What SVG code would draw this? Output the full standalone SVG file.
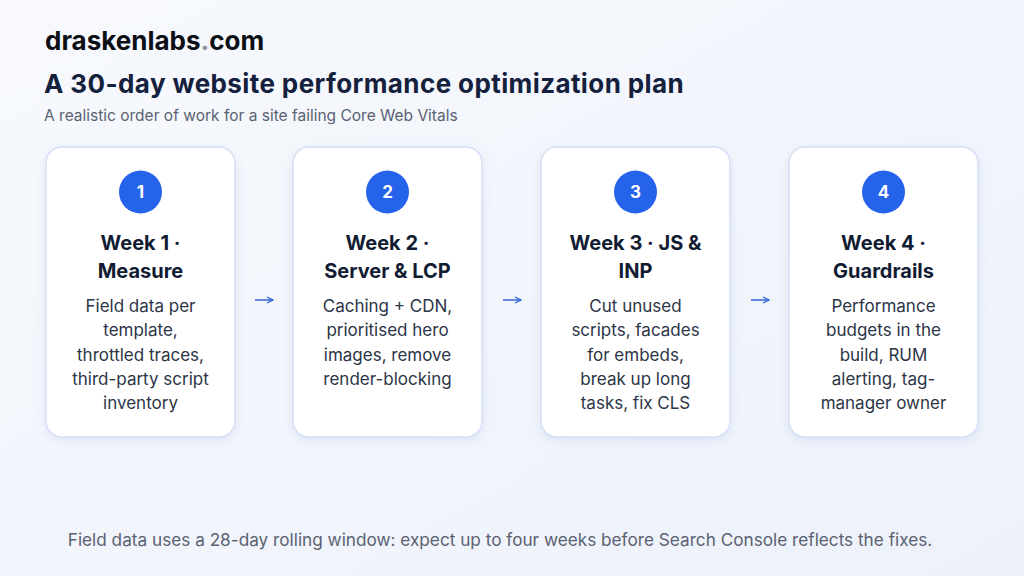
<svg xmlns="http://www.w3.org/2000/svg" width="1024" height="576" viewBox="0 0 1024 576">
<defs>
<linearGradient id="bg" x1="0" y1="0" x2="1" y2="1"><stop offset="0" stop-color="#f7f9fd"/><stop offset="1" stop-color="#edf1fa"/></linearGradient>
<filter id="sh" x="-20%" y="-20%" width="140%" height="140%"><feDropShadow dx="0" dy="3" stdDeviation="5" flood-color="#9aaee0" flood-opacity="0.25"/></filter>
<marker id="ah" markerWidth="8" markerHeight="8" refX="7" refY="4" orient="auto" markerUnits="userSpaceOnUse"><path d="M1,1 L7,4 L1,7" fill="none" stroke="#2f63d6" stroke-width="1.3"/></marker>
</defs>
<style>
text{font-family:Inter,"Noto Sans",sans-serif}
.card{fill:#fff;stroke:#d4e0f6;stroke-width:1.5}
.num{fill:#2563eb}
.nt{fill:#fff;font-size:17px;font-weight:700;text-anchor:middle}
.h{fill:#111c33;font-size:20px;font-weight:700;text-anchor:middle}
.b{fill:#2c3547;font-size:17px;text-anchor:middle}
.c{stroke:#2f63d6;stroke-width:1.5;fill:none}
</style>
<rect width="1024" height="576" fill="url(#bg)"/>
<text x="45" y="50" font-size="26" font-weight="700" fill="#0c0f16">draskenlabs<tspan fill="#8a8f99">.</tspan>com</text>
<text x="44" y="93" font-size="26" font-weight="700" fill="#14213d" letter-spacing="0.4">A 30-day website performance optimization plan</text>
<text x="44" y="121" font-size="15.5" fill="#5a6272">A realistic order of work for a site failing Core Web Vitals</text>
<g id="n1"><rect class="card" x="46" y="147" width="189" height="290" rx="16" filter="url(#sh)"/><circle class="num" cx="140.5" cy="192" r="21.5"/><text class="nt" x="140.5" y="198">1</text><text class="h" x="140.5" y="250">Week 1 ·</text><text class="h" x="140.5" y="278">Measure</text><text class="b" x="140.5" y="312">Field data per</text><text class="b" x="140.5" y="336">template,</text><text class="b" x="140.5" y="361">throttled traces,</text><text class="b" x="140.5" y="385">third-party script</text><text class="b" x="140.5" y="409">inventory</text></g>
<g id="n2"><rect class="card" x="293" y="147" width="189" height="290" rx="16" filter="url(#sh)"/><circle class="num" cx="387.5" cy="192" r="21.5"/><text class="nt" x="387.5" y="198">2</text><text class="h" x="387.5" y="250">Week 2 ·</text><text class="h" x="387.5" y="278">Server &amp; LCP</text><text class="b" x="387.5" y="312">Caching + CDN,</text><text class="b" x="387.5" y="336">prioritised hero</text><text class="b" x="387.5" y="361">images, remove</text><text class="b" x="387.5" y="385">render-blocking</text></g>
<g id="n3"><rect class="card" x="541" y="147" width="189" height="290" rx="16" filter="url(#sh)"/><circle class="num" cx="635.5" cy="192" r="21.5"/><text class="nt" x="635.5" y="198">3</text><text class="h" x="635.5" y="250">Week 3 · JS &amp;</text><text class="h" x="635.5" y="278">INP</text><text class="b" x="635.5" y="312">Cut unused</text><text class="b" x="635.5" y="336">scripts, facades</text><text class="b" x="635.5" y="361">for embeds,</text><text class="b" x="635.5" y="385">break up long</text><text class="b" x="635.5" y="409">tasks, fix CLS</text></g>
<g id="n4"><rect class="card" x="789" y="147" width="189" height="290" rx="16" filter="url(#sh)"/><circle class="num" cx="883.5" cy="192" r="21.5"/><text class="nt" x="883.5" y="198">4</text><text class="h" x="883.5" y="250">Week 4 ·</text><text class="h" x="883.5" y="278">Guardrails</text><text class="b" x="883.5" y="312">Performance</text><text class="b" x="883.5" y="336">budgets in the</text><text class="b" x="883.5" y="361">build, RUM</text><text class="b" x="883.5" y="385">alerting, tag-</text><text class="b" x="883.5" y="409">manager owner</text></g>
<g id="connectors"><line class="c" x1="255" y1="300" x2="273" y2="300" marker-end="url(#ah)"/><line class="c" x1="503" y1="300" x2="521" y2="300" marker-end="url(#ah)"/><line class="c" x1="751" y1="300" x2="769" y2="300" marker-end="url(#ah)"/></g>
<text x="500" y="546" font-size="17.2" fill="#5a6272" text-anchor="middle">Field data uses a 28-day rolling window: expect up to four weeks before Search Console reflects the fixes.</text>
</svg>
